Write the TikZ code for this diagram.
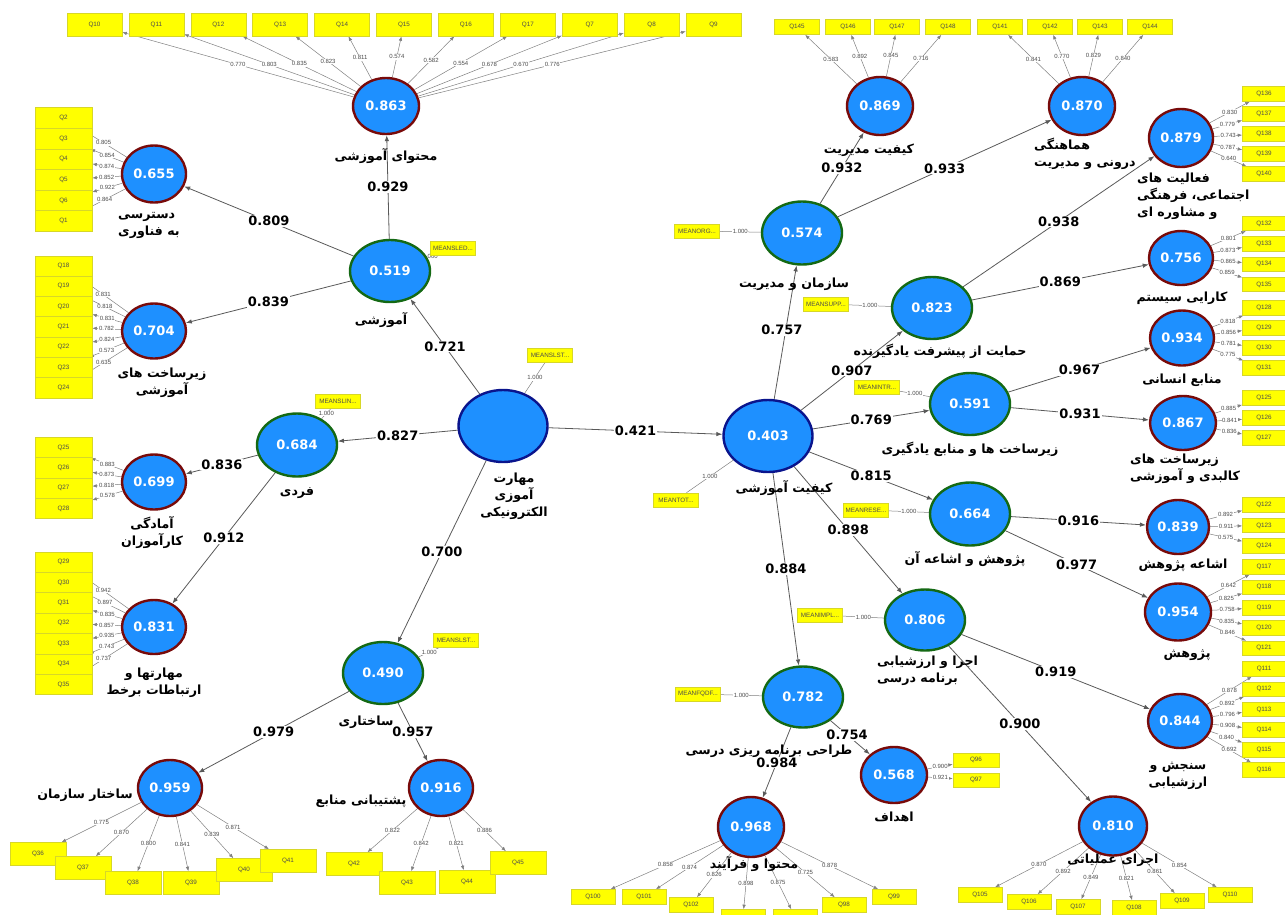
\documentclass[tikz,border=0pt]{standalone}
\usepackage{fontspec}
\setmainfont{DejaVu Sans}
\newfontfamily\fa[Script=Arabic]{DejaVu Sans}
\newfontfamily\tinyf{Liberation Sans}
\TeXXeTstate=1
\usetikzlibrary{shapes.geometric,arrows.meta}
\pgfdeclarelayer{bg}
\pgfsetlayers{bg,main}
\definecolor{lvblue}{RGB}{30,144,255}
\definecolor{lvred}{RGB}{120,10,10}
\definecolor{lvgreen}{RGB}{20,105,20}
\definecolor{lvnavy}{RGB}{10,20,140}
\definecolor{itemyel}{RGB}{255,255,0}
\definecolor{itemedge}{RGB}{215,215,40}
\newcommand{\rl}[1]{\beginR#1\endR}
\newcommand{\dd}{...}
\tikzset{
  lv/.style 2 args={ellipse, fill=lvblue, line width=2.4pt, inner sep=0pt,
    minimum width=#1pt, minimum height=#2pt, text=white,
    font=\fontsize{13}{13}\selectfont\bfseries},
  redlv/.style={draw=lvred},
  greenlv/.style={draw=lvgreen},
  navylv/.style={draw=lvnavy},
  qbox/.style 2 args={rectangle, fill=itemyel, draw=itemedge, line width=0.6pt,
    minimum width=#1pt, minimum height=#2pt, inner sep=0pt, text=black!70,
    font=\tinyf\fontsize{6.3}{6.3}\selectfont},
  lbl/.style={font=\fa\fontsize{12.6}{17}\selectfont\bfseries, align=center, inner sep=0pt},
  pth/.style={draw=black!65, line width=0.8pt, -{Latex[length=6pt,width=4.5pt]}},
  coef/.style={fill=white, inner sep=1pt, font=\fontsize{13}{13}\selectfont\bfseries},
  ldg/.style={draw=black!50, line width=0.5pt, -{Latex[length=4.5pt,width=3.5pt]}},
  lval/.style={fill=white, inner sep=0.6pt, text=black!70, font=\tinyf\fontsize{6}{6}\selectfont},
  meas/.style={draw=black!50, line width=0.5pt}
}
\begin{document}
\begin{tikzpicture}[x=1pt,y=-1pt]
\useasboundingbox (0,0) rectangle (1285,914);
% latent variables
\node[lv={89}{72},navylv] (emskill) at (503,426) {};
\node[lv={89}{72},navylv] (eduq) at (768,436) {0.403};
\node[lv={80}{62},greenlv] (c519) at (390,271) {0.519};
\node[lv={80}{63},greenlv] (c684) at (297,445) {0.684};
\node[lv={80}{62},greenlv] (c490) at (383,673) {0.490};
\node[lv={80}{63},greenlv] (c574) at (802,233) {0.574};
\node[lv={80}{62},greenlv] (c823) at (932,308) {0.823};
\node[lv={80}{62},greenlv] (c591) at (970,404) {0.591};
\node[lv={80}{63},greenlv] (c664) at (970,514) {0.664};
\node[lv={80}{61},greenlv] (c806) at (925,620) {0.806};
\node[lv={80}{61},greenlv] (c782) at (803,697) {0.782};
\node[lv={66}{56},redlv] (c863) at (386,106) {0.863};
\node[lv={64}{57},redlv] (c655) at (154,174) {0.655};
\node[lv={64}{55},redlv] (c704) at (154,331) {0.704};
\node[lv={64}{55},redlv] (c699) at (154,482) {0.699};
\node[lv={64}{54},redlv] (c831) at (154,627) {0.831};
\node[lv={64}{56},redlv] (c959) at (170,788) {0.959};
\node[lv={64}{56},redlv] (c916) at (441,788) {0.916};
\node[lv={66}{58},redlv] (c869) at (880,106) {0.869};
\node[lv={66}{58},redlv] (c870) at (1082,106) {0.870};
\node[lv={64}{58},redlv] (c879) at (1181,138) {0.879};
\node[lv={64}{54},redlv] (c756) at (1181,258) {0.756};
\node[lv={64}{55},redlv] (c934) at (1182,338) {0.934};
\node[lv={66}{54},redlv] (c867) at (1183,423) {0.867};
\node[lv={62}{54},redlv] (c839) at (1178,527) {0.839};
\node[lv={66}{57},redlv] (c954) at (1178,612) {0.954};
\node[lv={64}{54},redlv] (c844) at (1180,721) {0.844};
\node[lv={66}{56},redlv] (c568) at (894,775) {0.568};
\node[lv={66}{60},redlv] (c968) at (751,827) {0.968};
\node[lv={68}{59},redlv] (c810) at (1113,826) {0.810};
% names of the variables
\node[lbl] (temskill) at (514,496) {\rl{مهارت}\\\rl{آموزی}\\\rl{الکترونیکی}};
\node[lbl] (teduq) at (784,488) {\rl{کیفیت آموزشی}};
\node[lbl] (t863) at (386,156) {\rl{محتوای آموزشی}};
\node[lbl,anchor=west,align=left] (t655) at (118,225) {\rl{دسترسی}\\\rl{به فناوری}};
\node[lbl] (t704) at (162,383) {\rl{زیرساخت های}\\\rl{آموزشی}};
\node[lbl] (t519) at (381,320) {\rl{آموزشی}};
\node[lbl] (t684) at (297,493) {\rl{فردی}};
\node[lbl] (t699) at (152,533) {\rl{آمادگی}\\\rl{کارآموزان}};
\node[lbl] (t831) at (154,683) {\rl{مهارتها و}\\\rl{ارتباطات برخط}};
\node[lbl] (t490) at (366,722) {\rl{ساختاری}};
\node[lbl] (t959) at (85,795) {\rl{ساختار سازمان}};
\node[lbl] (t916) at (361,801) {\rl{پشتیبانی منابع}};
\node[lbl] (t869) at (869,150) {\rl{کیفیت مدیریت}};
\node[lbl,anchor=west,align=left] (t870) at (1034,154) {\rl{هماهنگی}\\\rl{درونی و مدیریت}};
\node[lbl,anchor=west,align=left] (t879) at (1137,196) {\rl{فعالیت های}\\\rl{اجتماعی، فرهنگی}\\\rl{و مشاوره ای}};
\node[lbl] (t574) at (794,284) {\rl{سازمان و مدیریت}};
\node[lbl] (t823) at (940,351) {\rl{حمایت از پیشرفت یادگیرنده}};
\node[lbl] (t756) at (1182,298) {\rl{کارایی سیستم}};
\node[lbl] (t934) at (1182,380) {\rl{منابع انسانی}};
\node[lbl] (t591) at (970,449) {\rl{زیرساخت ها و منابع یادگیری}};
\node[lbl,anchor=west,align=left] (t867) at (1130,469) {\rl{زیرساخت های}\\\rl{کالبدی و آموزشی}};
\node[lbl] (t664) at (965,559) {\rl{پژوهش و اشاعه آن}};
\node[lbl] (t839) at (1183,565) {\rl{اشاعه پژوهش}};
\node[lbl] (t954) at (1187,655) {\rl{پژوهش}};
\node[lbl,anchor=west,align=left] (t806) at (877,671) {\rl{اجرا و ارزشیابی}\\\rl{برنامه درسی}};
\node[lbl] (t844) at (1178,776) {\rl{سنجش و}\\\rl{ارزشیابی}};
\node[lbl] (t782) at (769,751) {\rl{طراحی برنامه ریزی درسی}};
\node[lbl] (t568) at (894,817) {\rl{اهداف}};
\node[lbl] (t968) at (754,864) {\rl{محتوا و فرآیند}};
\node[lbl] (t810) at (1113,860) {\rl{اجرای عملیاتی}};
% indicators, top row
\foreach \q/\x/\l in {Q10/94.5/0.770, Q11/156.4/0.803, Q12/218.3/0.835, Q13/280.2/0.823,
  Q14/342.1/0.811, Q15/404/0.574, Q16/465.9/0.582, Q17/527.8/0.554, Q7/589.7/0.678,
  Q8/651.6/0.670, Q9/713.5/0.776}{
  \node[qbox={55}{23}] (\q) at (\x,24.5) {\q};
  \begin{pgfonlayer}{bg}\draw[ldg] (c863) -- node[lval]{\l} (\q);\end{pgfonlayer}
}
\foreach \q/\x/\l in {Q145/797/0.583, Q146/848/0.892, Q147/897/0.845, Q148/948/0.716}{
  \node[qbox={45}{15}] (\q) at (\x,27) {\q};
  \begin{pgfonlayer}{bg}\draw[ldg] (c869) -- node[lval]{\l} (\q);\end{pgfonlayer}
}
\foreach \q/\x/\l in {Q141/1000/0.841, Q142/1050/0.770, Q143/1100/0.829, Q144/1150/0.840}{
  \node[qbox={45}{15}] (\q) at (\x,27) {\q};
  \begin{pgfonlayer}{bg}\draw[ldg] (c870) -- node[lval]{\l} (\q);\end{pgfonlayer}
}
% indicators, left columns
\foreach \q/\y/\l in {Q2/118/0.805, Q3/138.6/0.854, Q4/159.2/0.874, Q5/179.8/0.852,
  Q6/200.4/0.922, Q1/221/0.864}{
  \node[qbox={57}{20.6}] (\q) at (63.5,\y) {\q};
  \begin{pgfonlayer}{bg}\draw[ldg] (c655) -- node[lval]{\l} (\q);\end{pgfonlayer}
}
\foreach \q/\y/\l in {Q18/266/0.831, Q19/286.3/0.818, Q20/306.6/0.831, Q21/326.9/0.782,
  Q22/347.2/0.824, Q23/367.5/0.573, Q24/387.8/0.635}{
  \node[qbox={57}{20.3}] (\q) at (63.5,\y) {\q};
  \begin{pgfonlayer}{bg}\draw[ldg] (c704) -- node[lval]{\l} (\q);\end{pgfonlayer}
}
\foreach \q/\y/\l in {Q25/447.5/0.883, Q26/467.8/0.873, Q27/488.1/0.818, Q28/508.4/0.578}{
  \node[qbox={57}{20.3}] (\q) at (63.5,\y) {\q};
  \begin{pgfonlayer}{bg}\draw[ldg] (c699) -- node[lval]{\l} (\q);\end{pgfonlayer}
}
\foreach \q/\y/\l in {Q29/562/0.942, Q30/582.4/0.897, Q31/602.8/0.835, Q32/623.2/0.857,
  Q33/643.6/0.935, Q34/664/0.743, Q35/684.4/0.737}{
  \node[qbox={57}{20.4}] (\q) at (63.5,\y) {\q};
  \begin{pgfonlayer}{bg}\draw[ldg] (c831) -- node[lval]{\l} (\q);\end{pgfonlayer}
}
% indicators, right columns
\foreach \q/\y/\l in {Q136/94/0.830, Q137/114/0.779, Q138/134/0.743, Q139/154/0.787, Q140/174/0.640}{
  \node[qbox={43}{14.5}] (\q) at (1264,\y) {\q};
  \begin{pgfonlayer}{bg}\draw[ldg] (c879) -- node[lval]{\l} (\q);\end{pgfonlayer}
}
\foreach \q/\y/\l in {Q132/223.5/0.801, Q133/243.8/0.873, Q134/264.1/0.865, Q135/284.4/0.859}{
  \node[qbox={43}{14.5}] (\q) at (1264,\y) {\q};
  \begin{pgfonlayer}{bg}\draw[ldg] (c756) -- node[lval]{\l} (\q);\end{pgfonlayer}
}
\foreach \q/\y/\l in {Q128/308/0.818, Q129/328/0.856, Q130/348/0.781, Q131/368/0.775}{
  \node[qbox={43}{14.5}] (\q) at (1264,\y) {\q};
  \begin{pgfonlayer}{bg}\draw[ldg] (c934) -- node[lval]{\l} (\q);\end{pgfonlayer}
}
\foreach \q/\y/\l in {Q125/398/0.885, Q126/418/0.841, Q127/438/0.836}{
  \node[qbox={43}{14.5}] (\q) at (1264,\y) {\q};
  \begin{pgfonlayer}{bg}\draw[ldg] (c867) -- node[lval]{\l} (\q);\end{pgfonlayer}
}
\foreach \q/\y/\l in {Q122/505/0.892, Q123/525.5/0.911, Q124/546/0.575}{
  \node[qbox={43}{14.5}] (\q) at (1264,\y) {\q};
  \begin{pgfonlayer}{bg}\draw[ldg] (c839) -- node[lval]{\l} (\q);\end{pgfonlayer}
}
\foreach \q/\y/\l in {Q117/567/0.642, Q118/587.3/0.825, Q119/607.6/0.758, Q120/627.9/0.835, Q121/648.2/0.846}{
  \node[qbox={43}{14.5}] (\q) at (1264,\y) {\q};
  \begin{pgfonlayer}{bg}\draw[ldg] (c954) -- node[lval]{\l} (\q);\end{pgfonlayer}
}
\foreach \q/\y/\l in {Q111/669/0.878, Q112/689.2/0.892, Q113/709.4/0.796, Q114/729.6/0.908,
  Q115/749.8/0.840, Q116/770/0.692}{
  \node[qbox={43}{14.5}] (\q) at (1264,\y) {\q};
  \begin{pgfonlayer}{bg}\draw[ldg] (c844) -- node[lval]{\l} (\q);\end{pgfonlayer}
}
% indicators, bottom
\foreach \q/\x/\y/\l in {Q36/38/854/0.775, Q37/83/868/0.870, Q38/133/883/0.800,
  Q39/191/883/0.841, Q40/244/870/0.839, Q41/288/861/0.871}{
  \node[qbox={56}{23}] (\q) at (\x,\y) {\q};
  \begin{pgfonlayer}{bg}\draw[ldg] (c959) -- node[lval]{\l} (\q);\end{pgfonlayer}
}
\foreach \q/\x/\y/\l in {Q42/354/864/0.822, Q43/407/883/0.842, Q44/467/882/0.821, Q45/518/863/0.886}{
  \node[qbox={56}{23}] (\q) at (\x,\y) {\q};
  \begin{pgfonlayer}{bg}\draw[ldg] (c916) -- node[lval]{\l} (\q);\end{pgfonlayer}
}
\foreach \q/\x/\y/\l in {Q100/593/897/0.858, Q101/644/897/0.874, Q102/691/905/0.826,
  Q98/844/905/0.725, Q99/894/897/0.878}{
  \node[qbox={44}{15}] (\q) at (\x,\y) {\q};
  \begin{pgfonlayer}{bg}\draw[ldg] (c968) -- node[lval]{\l} (\q);\end{pgfonlayer}
}
\node[qbox={44}{15}] (Q103) at (743,917) {};
\node[qbox={44}{15}] (Q104) at (795,917) {};
\begin{pgfonlayer}{bg}
\draw[ldg] (c968) -- node[lval]{0.898} (Q103);
\draw[ldg] (c968) -- node[lval]{0.875} (Q104);
\end{pgfonlayer}
\foreach \q/\x/\y/\l in {Q105/980/895/0.870, Q106/1029/902/0.892, Q107/1078/907/0.849,
  Q108/1134/908/0.821, Q109/1182/901/0.861, Q110/1230/895/0.854}{
  \node[qbox={44}{15}] (\q) at (\x,\y) {\q};
  \begin{pgfonlayer}{bg}\draw[ldg] (c810) -- node[lval]{\l} (\q);\end{pgfonlayer}
}
\foreach \q/\y/\l in {Q96/760/0.900, Q97/780/0.921}{
  \node[qbox={46}{14}] (\q) at (976,\y) {\q};
  \begin{pgfonlayer}{bg}\draw[ldg] (c568) -- node[lval]{\l} (\q);\end{pgfonlayer}
}
% single mean indicators
\foreach \m/\x/\y/\t/\c in {mslst/550/355/MEANSLST\dd/emskill, mtot/676/500/MEANTOT\dd/eduq,
  msled/453/248/MEANSLED\dd/c519, mslin/338/401/MEANSLIN\dd/c684, mslstb/456/640/MEANSLST\dd/c490,
  morg/697/231/MEANORG\dd/c574, msupp/826/304/MEANSUPP\dd/c823, mintr/877/387/MEANINTR\dd/c591,
  mrese/866/510/MEANRESE\dd/c664, mimpl/820/615/MEANIMPL\dd/c806, mfqdf/698/694/MEANFQDF\dd/c782}{
  \node[qbox={45}{14}] (\m) at (\x,\y) {\t};
  \begin{pgfonlayer}{bg}\draw[meas] (\m) -- node[lval]{1.000} (\c);\end{pgfonlayer}
}
% structural paths
\begin{pgfonlayer}{bg}
\draw[pth] (emskill) -- node[coef]{0.721} (c519);
\draw[pth] (emskill) -- node[coef]{0.827} (c684);
\draw[pth] (emskill) -- node[coef]{0.700} (c490);
\draw[pth] (emskill) -- node[coef]{0.421} (eduq);
\draw[pth] (c519) -- node[coef]{0.929} (c863);
\draw[pth] (c519) -- node[coef]{0.809} (c655);
\draw[pth] (c519) -- node[coef]{0.839} (c704);
\draw[pth] (c684) -- node[coef]{0.836} (c699);
\draw[pth] (c684) -- node[coef]{0.912} (c831);
\draw[pth] (c490) -- node[coef]{0.979} (c959);
\draw[pth] (c490) -- node[coef]{0.957} (c916);
\draw[pth] (eduq) -- node[coef,pos=0.52,xshift=-4pt]{0.757} (c574);
\draw[pth] (eduq) -- node[coef]{0.907} (c823);
\draw[pth] (eduq) -- node[coef]{0.769} (c591);
\draw[pth] (eduq) -- node[coef]{0.815} (c664);
\draw[pth] (eduq) -- node[coef]{0.898} (c806);
\draw[pth] (eduq) -- node[coef]{0.884} (c782);
\draw[pth] (c574) -- node[coef]{0.932} (c869);
\draw[pth] (c574) -- node[coef]{0.933} (c870);
\draw[pth] (c823) -- node[coef]{0.938} (c879);
\draw[pth] (c823) -- node[coef]{0.869} (c756);
\draw[pth] (c591) -- node[coef]{0.967} (c934);
\draw[pth] (c591) -- node[coef]{0.931} (c867);
\draw[pth] (c664) -- node[coef]{0.916} (c839);
\draw[pth] (c664) -- node[coef]{0.977} (c954);
\draw[pth] (c806) -- node[coef]{0.919} (c844);
\draw[pth] (c806) -- node[coef]{0.900} (c810);
\draw[pth] (c782) -- node[coef,pos=0.42]{0.754} (c568);
\draw[pth] (c782) -- node[coef]{0.984} (c968);
\end{pgfonlayer}
\end{tikzpicture}
\end{document}
